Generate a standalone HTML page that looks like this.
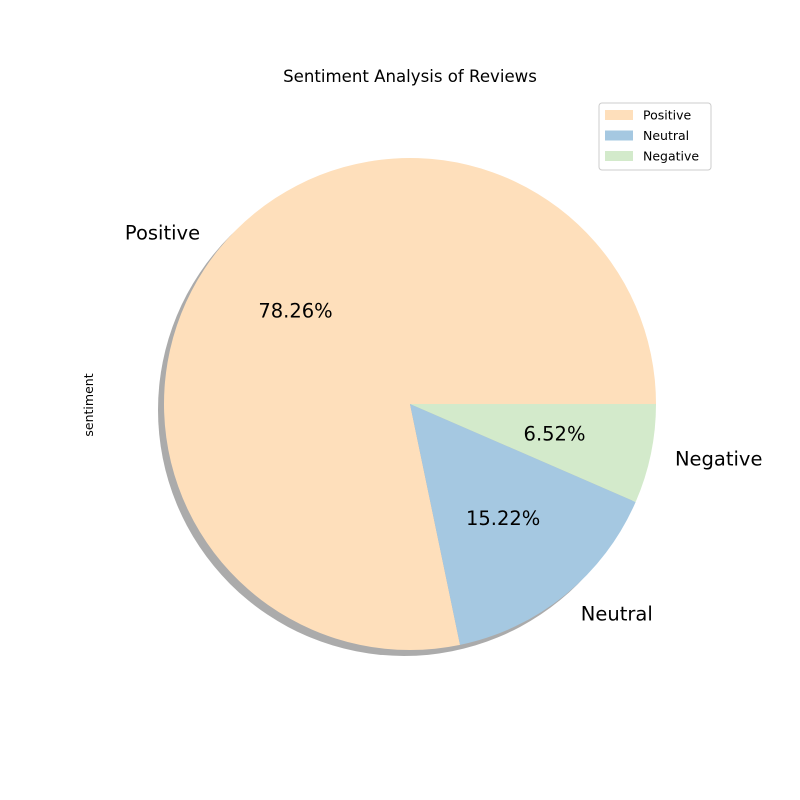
<!DOCTYPE html>
<html><head><meta charset="utf-8"><style>
body{margin:0;background:#fff;}
svg{display:block;font-family:"DejaVu Sans","Liberation Sans",sans-serif;}
</style></head><body>
<svg id="chart" width="800" height="800" viewBox="0 0 800 800">
<text x="410" y="82" text-anchor="middle" font-size="16.6">Sentiment Analysis of Reviews</text>
<text transform="translate(93,405) rotate(-90)" text-anchor="middle" font-size="12.5">sentiment</text>
<g id="shadow"></g>
<g id="slices"></g>
<g id="labels"></g>
<g>
<rect x="599" y="103" width="112" height="67" rx="3" fill="#fff" fill-opacity="0.8" stroke="#ccc"/>
<g id="legend"></g>
</g>
</svg>
<script>
const categories=["Positive","Neutral","Negative"];
const values=[78.26,15.22,6.52];
const colors=["#fedfbb","#a5c8e1","#d3eacb"];
const NS="http://www.w3.org/2000/svg";
const cx=410,cy=404,r=246;
const total=values.reduce((a,b)=>a+b,0);
function pt(a,rr){return [cx+rr*Math.cos(a),cy-rr*Math.sin(a)];}
const sh=document.createElementNS(NS,"circle");
sh.setAttribute("cx",cx-6);sh.setAttribute("cy",cy+6);sh.setAttribute("r",r);
sh.setAttribute("fill","#000");sh.setAttribute("fill-opacity","0.33");


document.getElementById("shadow").appendChild(sh);
let start=0;
values.forEach((v,i)=>{
  const sweep=v/total*2*Math.PI;const end=start+sweep;
  const [x1,y1]=pt(start,r),[x2,y2]=pt(end,r);
  const p=document.createElementNS(NS,"path");
  p.setAttribute("d",`M${cx},${cy} L${x1},${y1} A${r},${r} 0 ${sweep>Math.PI?1:0} 0 ${x2},${y2} Z`);
  p.setAttribute("fill",colors[i]);
  
  
  document.getElementById("slices").appendChild(p);
  const mid=(start+end)/2;
  const [lx,ly]=pt(mid,r*1.1);
  const t=document.createElementNS(NS,"text");
  t.setAttribute("x",lx);t.setAttribute("y",ly+6.5);t.setAttribute("font-size","19.5");
  t.setAttribute("text-anchor",Math.cos(mid)<0?"end":"start");
  t.textContent=categories[i];
  
  
  document.getElementById("labels").appendChild(t);
  const [px,py]=pt(mid,r*0.6);
  const q=document.createElementNS(NS,"text");
  q.setAttribute("x",px);q.setAttribute("y",py+6.5);q.setAttribute("font-size","19.5");
  q.setAttribute("text-anchor","middle");
  q.textContent=v.toFixed(2)+"%";
  
  
  document.getElementById("labels").appendChild(q);
  const g=document.createElementNS(NS,"g");
  
  
  const sw=document.createElementNS(NS,"rect");
  sw.setAttribute("x",605);sw.setAttribute("y",110+i*20.5);sw.setAttribute("width",28);sw.setAttribute("height",10);sw.setAttribute("fill",colors[i]);
  const lt=document.createElementNS(NS,"text");
  lt.setAttribute("x",643);lt.setAttribute("y",119.5+i*20.5);lt.setAttribute("font-size","12.5");
  lt.textContent=categories[i];
  g.appendChild(sw);g.appendChild(lt);
  document.getElementById("legend").appendChild(g);
  start=end;
});
</script>
</body></html>
